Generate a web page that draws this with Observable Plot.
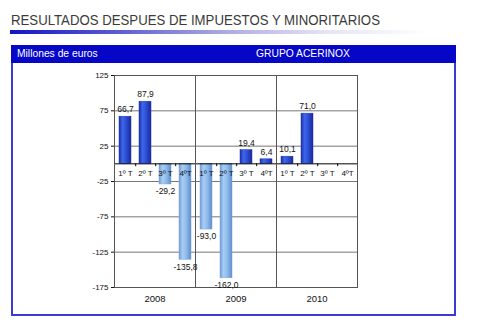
<!DOCTYPE html>
<html><head><meta charset="utf-8">
<script src="https://cdn.jsdelivr.net/npm/d3@7"></script>
<script src="https://cdn.jsdelivr.net/npm/@observablehq/plot@0.6"></script>
<style>
html,body{margin:0;padding:0;background:#fff}
body{width:500px;height:323px;overflow:hidden;position:relative;font-family:"Liberation Sans",Arial,sans-serif}
#title{position:absolute;left:11px;top:12px;font-size:15px;line-height:15px;color:#3a3a3a;white-space:nowrap;transform-origin:0 0;transform:scaleX(0.88)}
#rule{position:absolute;left:10px;top:30px;width:420px;height:4px;background:linear-gradient(to right,#1414c4 0%,#5a5ad0 25%,#a8a8e0 50%,#e4e4f4 75%,#ffffff 100%)}
#box{position:absolute;left:11px;top:45px;width:441px;height:267px;border:2px solid #3a3ad8}
#head{position:absolute;left:11px;top:45px;width:445px;height:18px;background:#0606c6}
.ht{position:absolute;top:48px;font-size:10.3px;line-height:12px;color:#fff;white-space:nowrap}
#chart{position:absolute;left:12px;top:63px}
</style></head><body>
<div id="title">RESULTADOS DESPUES DE IMPUESTOS Y MINORITARIOS</div>
<div id="rule"></div>
<div id="box"></div>
<div id="head"></div>
<div class="ht" style="left:17px">Millones de euros</div>
<div class="ht" style="left:256px">GRUPO ACERINOX</div>
<div id="chart"></div>
<script>
const years = ["2008", "2009", "2010"];
const quarters = ["1º T", "2º T", "3º T", "4ºT"];
const values2008 = [66.7, 87.9, -29.2, -135.8];
const values2009 = [-93.0, -162.0, 19.4, 6.4];
const values2010 = [10.1, 71.0, null, null];
const yTicks = [125, 75, 25, -25, -75, -125, -175];

const allValues = [values2008, values2009, values2010];
const data = [];
years.forEach((yr, i) => quarters.forEach((q, j) => data.push({year: yr, q, v: allValues[i][j]})));
const bars = data.filter(d => d.v != null);
const pos = bars.filter(d => d.v >= 0);
const neg = bars.filter(d => d.v < 0);
const labelGrid = years.flatMap(yr => quarters.map(q => ({year: yr, q})));
const fmt = d => d.v.toFixed(1).replace(".", ",");
const boundaries = years.flatMap(yr => quarters.slice(0, 3).map(q => ({year: yr, q})));

const chart = Plot.plot({
  width: 443, height: 252,
  marginLeft: 101, marginRight: 98, marginTop: 12, marginBottom: 28,
  style: {background: "transparent", fontFamily: "'Liberation Sans', Arial, sans-serif", fontSize: "8px", color: "#111"},
  fx: {domain: years, padding: 0, label: null, axis: null},
  x: {domain: quarters, paddingInner: 0.4, paddingOuter: 0.2, axis: null},
  y: {domain: [-175, 125], ticks: yTicks, tickSize: 3, tickPadding: 3, label: null, tickFormat: d => String(d)},
  marks: [
    Plot.ruleY(yTicks, {stroke: "#777", strokeWidth: 1, strokeOpacity: 1}),
    Plot.barY(neg, {fx: "year", x: "q", y: "v", fill: "url(#gneg)", stroke: "#7aa6da", strokeWidth: 0.5}),
    Plot.barY(pos, {fx: "year", x: "q", y: "v", fill: "url(#gpos)", stroke: "#1c34b0", strokeWidth: 0.5}),
    Plot.ruleY([0], {stroke: "#000", strokeWidth: 1}),
    Plot.ruleX(boundaries, {fx: "year", x: "q", y1: 0, y2: -4, dx: 10.2, stroke: "#000"}),
    Plot.frame({stroke: "#555", strokeWidth: 1}),
    Plot.text(labelGrid, {fx: "year", x: "q", y: -14, text: "q", fontSize: 8, fill: "#111"}),
    Plot.text(pos, {fx: "year", x: "q", y: "v", text: fmt, dy: -7, fontSize: 8.5, fill: "#111"}),
    Plot.text(neg, {fx: "year", x: "q", y: "v", text: fmt, dy: 7, fontSize: 8.5, fill: "#111"}),
    Plot.text(years, {fx: d => d, text: d => d, frameAnchor: "bottom", dy: 14, fontSize: 9.5, fill: "#111"})
  ]
});
chart.insertAdjacentHTML("afterbegin", `<defs>
<linearGradient id="gpos" x1="0" x2="1" y1="0" y2="0">
<stop offset="0" stop-color="#1b2fa6"/><stop offset="0.3" stop-color="#3f66e8"/><stop offset="0.55" stop-color="#2f52dc"/><stop offset="1" stop-color="#1a2a96"/>
</linearGradient>
<linearGradient id="gneg" x1="0" x2="1" y1="0" y2="0">
<stop offset="0" stop-color="#6f9bd6"/><stop offset="0.3" stop-color="#a9cdf4"/><stop offset="0.6" stop-color="#8fbbec"/><stop offset="1" stop-color="#5f8cc8"/>
</linearGradient></defs>`);
document.getElementById("chart").appendChild(chart);
</script>
</body></html>
